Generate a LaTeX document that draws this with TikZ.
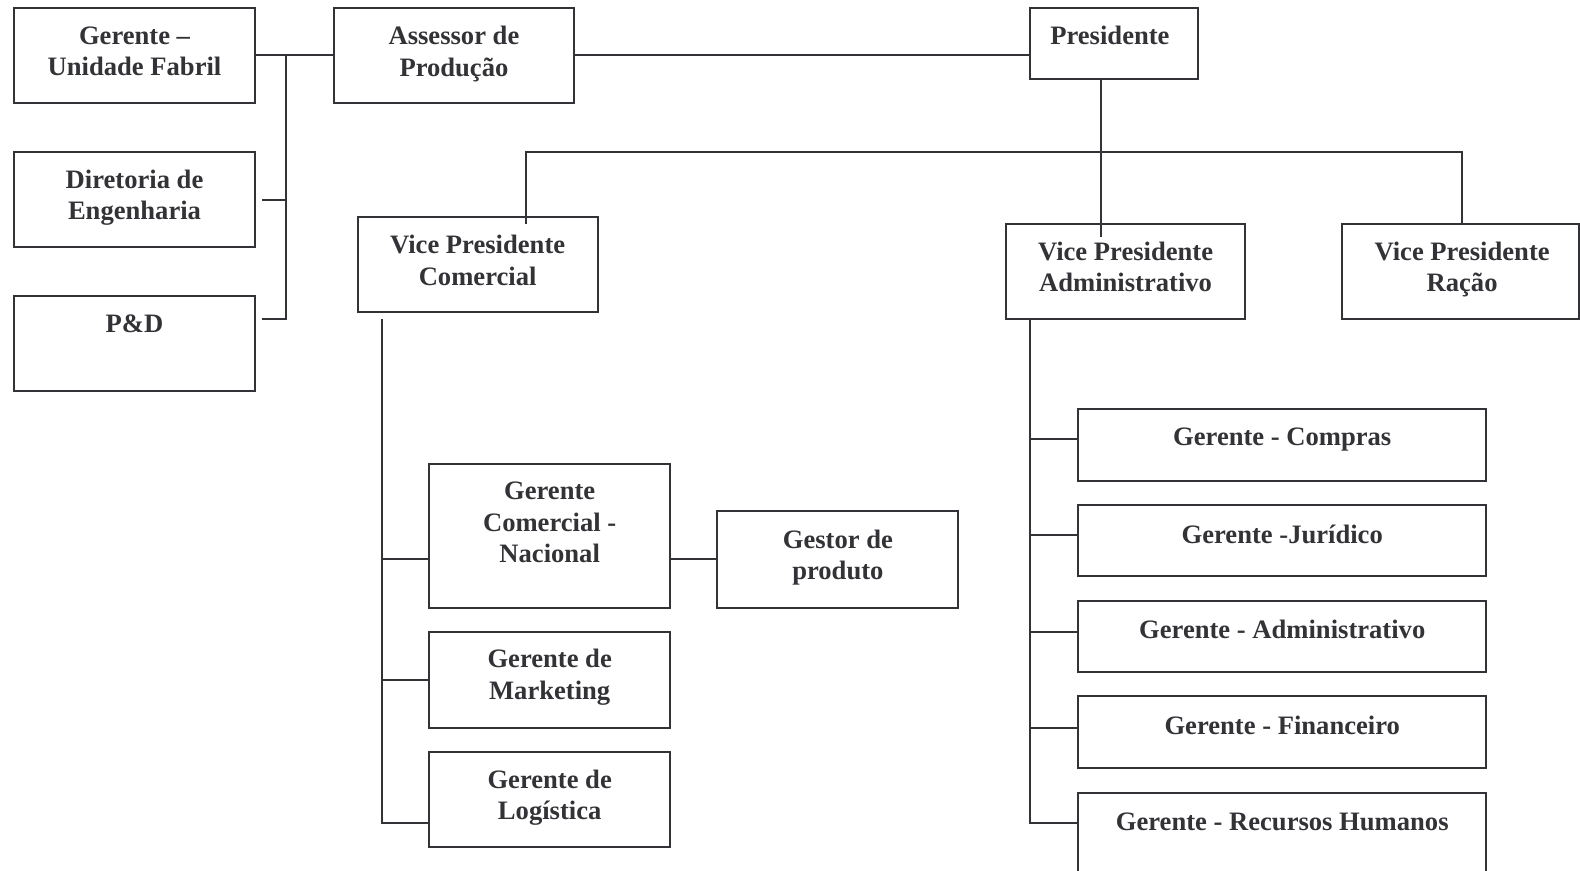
\documentclass[tikz,border=0pt]{standalone}
\usepackage{fontspec}
\setmainfont{Liberation Serif}
\usetikzlibrary{fit,calc}
\definecolor{ink}{RGB}{50,50,55}
\begin{document}
\begin{tikzpicture}[x=0.5pt,y=-0.5pt,
  box/.style={draw=ink, line width=1pt, inner sep=0pt},
  lbl/.style={text=ink, font=\bfseries\fontsize{13.2}{15.5}\selectfont, align=center, inner sep=0pt},
  wire/.style={draw=ink, line width=1pt}]
\useasboundingbox (0,0) rectangle (1568,864);
\clip (0,0) rectangle (1568,864);

% production branch
\node[box, fit={(14,8) (253,102)}] (uf) {};
\node[lbl] (uf-t) at (133.5,51) {Gerente –\\Unidade Fabril};
\node[box, fit={(331,8) (570,102)}] (ass) {};
\node[lbl] (ass-t) at (450.5,53.5) {Assessor de\\Produção};
\node[box, fit={(14,151) (253,245)}] (dir) {};
\node[lbl] (dir-t) at (133.5,196) {Diretoria de\\Engenharia};
\node[box, fit={(14,294) (253,388)}] (pd) {};
\node[lbl] (pd-t) at (133.5,321.5) {P\&D};

% top level
\node[box, fit={(1022,8) (1189,78)}] (pres) {};
\node[lbl] (pres-t) at (1101.5,35) {Presidente};
\node[box, fit={(355,215) (593,310)}] (vpc) {};
\node[lbl] (vpc-t) at (474,258.5) {Vice Presidente\\Comercial};
\node[box, fit={(998,222) (1236,317)}] (vpa) {};
\node[lbl] (vpa-t) at (1117,264.5) {Vice Presidente\\Administrativo};
\node[box, fit={(1332,222) (1566.5,317)}] (vpr) {};
\node[lbl] (vpr-t) at (1451,267.5) {Vice Presidente\\Ração};

% commercial branch
\node[box, fit={(426,460) (665,603)}] (gcn) {};
\node[lbl] (gcn-t) at (545.5,518.5) {Gerente\\Comercial -\\Nacional};
\node[box, fit={(712,507) (951,603)}] (gp) {};
\node[lbl] (gp-t) at (831.5,553) {Gestor de\\produto};
\node[box, fit={(426,627) (665,722)}] (mkt) {};
\node[lbl] (mkt-t) at (545.5,672) {Gerente de\\Marketing};
\node[box, fit={(426,746) (665,841)}] (lg) {};
\node[lbl] (lg-t) at (545.5,791.5) {Gerente de\\Logística};

% administrative branch
\node[box, fit={(1070,406) (1475,477)}] (cmp) {};
\node[lbl] (cmp-t) at (1272.5,436) {Gerente - Compras};
\node[box, fit={(1070,501) (1475,572)}] (jur) {};
\node[lbl] (jur-t) at (1272.5,530) {Gerente -Jurídico};
\node[box, fit={(1070,596) (1475,667)}] (adm) {};
\node[lbl] (adm-t) at (1272.5,625) {Gerente - Administrativo};
\node[box, fit={(1070,691) (1475,762)}] (fin) {};
\node[lbl] (fin-t) at (1272.5,720) {Gerente - Financeiro};
\node[box, fit={(1070,787) (1475,880)}] (rh) {};
\node[lbl] (rh-t) at (1272.5,816) {Gerente - Recursos Humanos};

% connectors: production
\coordinate (lbus) at (284,55);
\draw[wire] (uf.east |- lbus) -- (ass.west |- lbus);
\draw[wire] (lbus) -- (lbus |- 0,317) -- ([xshift=3pt]pd.east |- 0,317);
\draw[wire] ([xshift=3pt]dir.east) -- (lbus |- dir.east);
\draw[wire] (ass.east) -- (ass.east -| pres.west);

% connectors: president to vice presidents
\coordinate (pdrop) at (1093,235);
\draw[wire] (pdrop |- pres.south) -- (pdrop);
\coordinate (cdrop) at (522,222);
\coordinate (rdrop) at (1451,222);
\draw[wire] (cdrop) -- (cdrop |- 0,151) -| (rdrop |- vpr.north);

% connectors: commercial
\coordinate (cbus) at (379,317);
\draw[wire] (cbus) |- (lg.west |- 0,817);
\draw[wire] (cbus |- gp.west) -- (gcn.west |- gp.west);
\draw[wire] (gcn.east |- gp.west) -- (gp.west);
\draw[wire] (cbus |- mkt.west) -- (mkt.west);

% connectors: administrative
\coordinate (abus) at (1022,317);
\draw[wire] (abus) |- (rh.west |- 0,817);
\draw[wire] (abus |- 0,436) -- (cmp.west |- 0,436);
\draw[wire] (abus |- 0,531) -- (jur.west |- 0,531);
\draw[wire] (abus |- 0,627) -- (adm.west |- 0,627);
\draw[wire] (abus |- 0,722) -- (fin.west |- 0,722);
\end{tikzpicture}
\end{document}
